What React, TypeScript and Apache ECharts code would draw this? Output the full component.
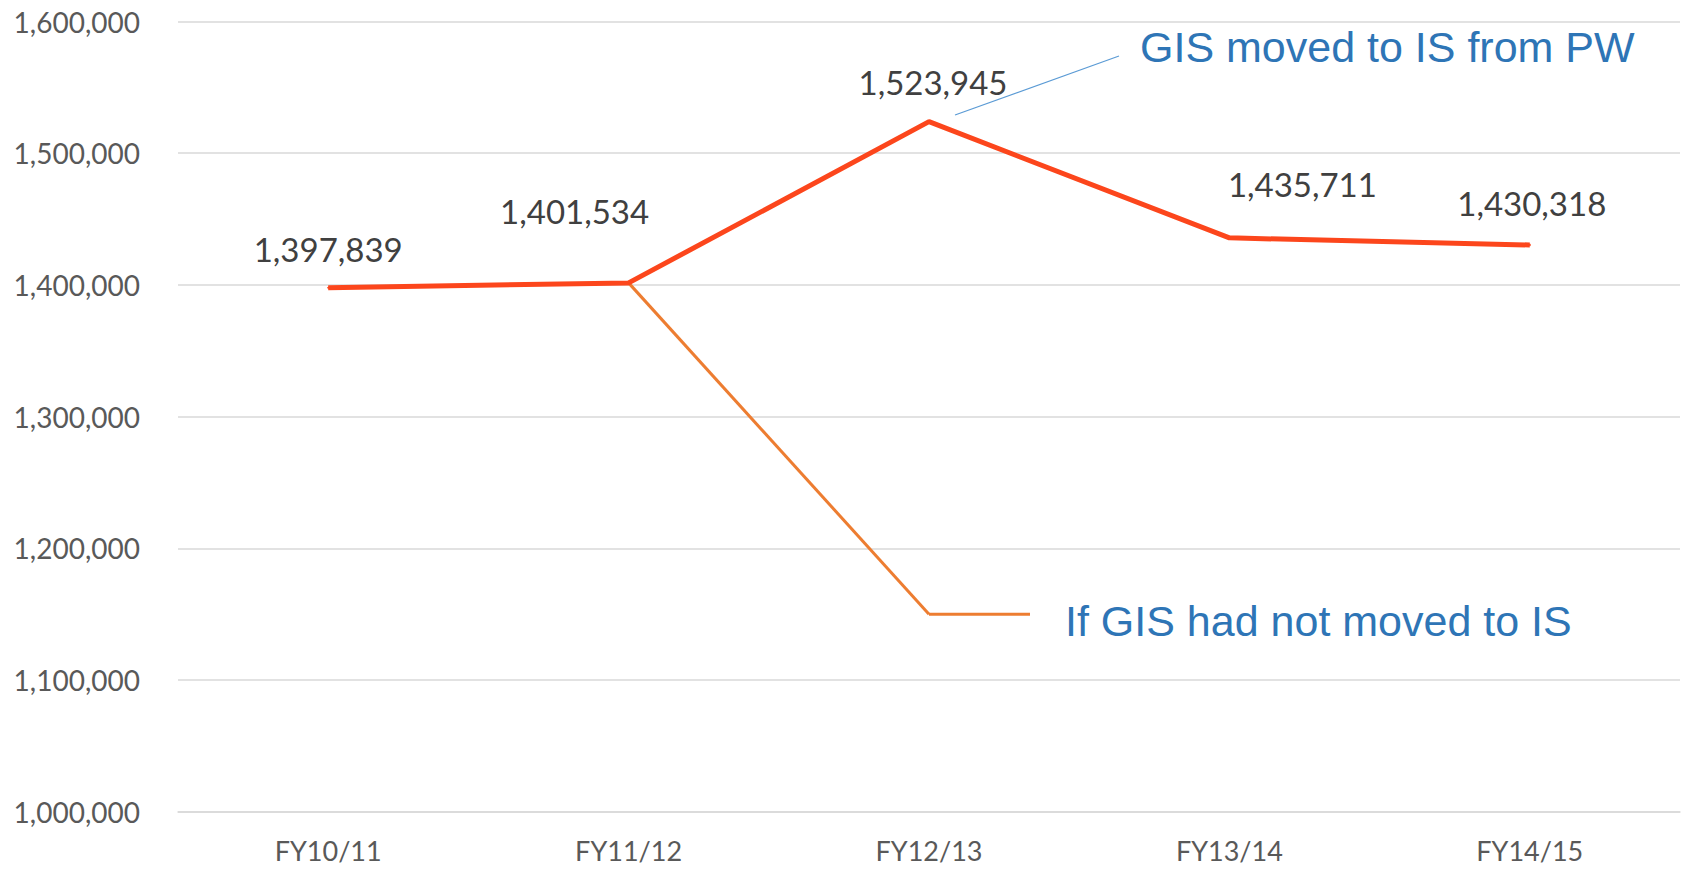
import React, { useEffect, useRef } from "react";
import * as echarts from "echarts";

const categories = ["FY10/11", "FY11/12", "FY12/13", "FY13/14", "FY14/15"];
const actualValues = [1397839, 1401534, 1523945, 1435711, 1430318];
const hypotheticalValues: (number | null)[] = [null, 1401534, 1150000, null, null];
const labelOffsets: [number, number][] = [[0, -39], [-54, -72], [4, -40], [73, -54], [2, -42]];
const annotationMoved = "GIS moved to IS from PW";
const annotationNotMoved = "If GIS had not moved to IS";

const fmt = (v: number) => v.toLocaleString("en-US");

export default function App() {
  const ref = useRef<HTMLDivElement>(null);
  useEffect(() => {
    document.body.style.margin = "0";
    const chart = echarts.init(ref.current!, null, { renderer: "svg" });
    chart.setOption({
      animation: false,
      backgroundColor: "#ffffff",
      grid: { left: 178, right: 2, top: 21.5, bottom: 57.3, containLabel: false },
      xAxis: {
        type: "category",
        data: categories,
        boundaryGap: true,
        axisLine: { show: true, lineStyle: { color: "#D9D9D9", width: 1.5 } },
        axisTick: { show: false },
        axisLabel: { color: "#595959", fontFamily: "Lato", fontSize: 27, margin: 25 },
      },
      yAxis: {
        type: "value",
        min: 1000000,
        max: 1600000,
        interval: 100000,
        axisLine: { show: false },
        axisTick: { show: false },
        splitLine: { lineStyle: { color: "#D9D9D9", width: 1.5 } },
        axisLabel: { color: "#595959", fontFamily: "Lato", fontSize: 28, margin: 38, formatter: (v: number) => fmt(v) },
      },
      series: [
        {
          type: "line",
          data: hypotheticalValues,
          symbol: "none",
          connectNulls: false,
          lineStyle: { color: "#ED7D31", width: 3 },
          z: 2,
        },
        {
          type: "line",
          data: actualValues.map((v, i) => ({
            value: v,
            label: { offset: labelOffsets[i] },
          })),
          symbol: "circle",
          symbolSize: 2,
          itemStyle: { color: "#FC461C" },
          lineStyle: { color: "#FC461C", width: 5 },
          label: {
            show: true,
            position: "inside",
            color: "#404040",
            fontFamily: "Lato",
            fontSize: 33,
            formatter: (p: any) => fmt(p.value),
          },
          z: 3,
        },
      ],
    });
    const p = chart.convertToPixel({ xAxisIndex: 0, yAxisIndex: 0 }, [2, hypotheticalValues[2] as number]) as number[];
    chart.setOption({
      graphic: [
        {
          type: "line",
          shape: { x1: p[0], y1: p[1], x2: p[0] + 101, y2: p[1] },
          style: { stroke: "#ED7D31", lineWidth: 3 },
          z: 2,
        },
        {
          type: "line",
          shape: { x1: 955, y1: 115, x2: 1119, y2: 56 },
          style: { stroke: "#5B9BD5", lineWidth: 1.2 },
        },
        {
          type: "text",
          x: 1140,
          y: 47,
          style: {
            text: annotationMoved,
            fill: "#2E75B6",
            font: "43px 'Liberation Sans', Arial, sans-serif",
            textVerticalAlign: "middle",
            verticalAlign: "middle",
          },
        },
        {
          type: "text",
          x: 1065,
          y: 621,
          style: {
            text: annotationNotMoved,
            fill: "#2E75B6",
            font: "43px 'Liberation Sans', Arial, sans-serif",
            textVerticalAlign: "middle",
            verticalAlign: "middle",
          },
        },
      ],
    });
    return () => chart.dispose();
  }, []);
  return <div ref={ref} style={{ width: 1682, height: 869 }} />;
}
